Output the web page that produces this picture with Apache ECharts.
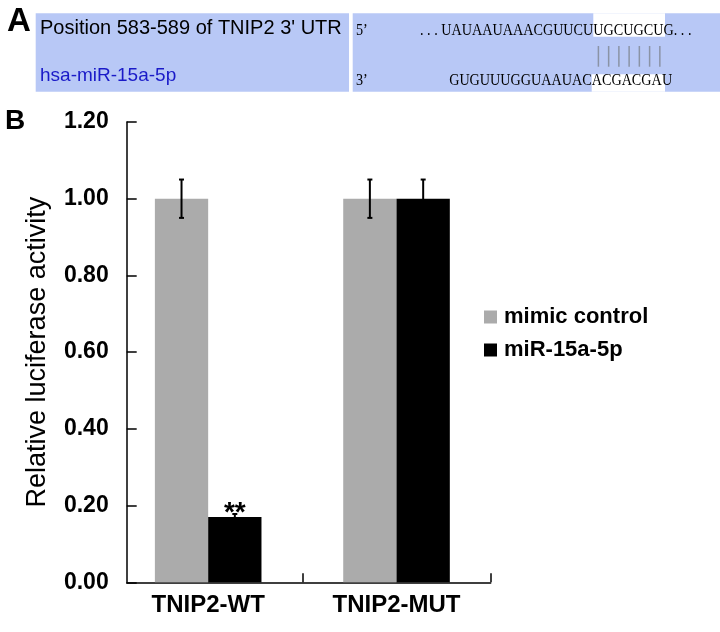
<!DOCTYPE html>
<html>
<head>
<meta charset="utf-8">
<script src="https://cdn.jsdelivr.net/npm/echarts@6/dist/echarts.min.js"></script>
<style>html,body{margin:0;padding:0;background:#fff;}#c{width:720px;height:632px;}</style>
</head>
<body>
<div id="c"></div>
<script>
// ---- data ----
const categories = ['TNIP2-WT', 'TNIP2-MUT'];
const seriesNames = ['mimic control', 'miR-15a-5p'];
const mimicControl = [1.00, 1.00];
const mimicControlErr = [0.05, 0.05];
const mir15a = [0.17, 1.00];
const mir15aErr = [0.008, 0.05];
const sigMarks = ['**', ''];
const yMin = 0, yMax = 1.2, yStep = 0.2;
const yAxisTitle = 'Relative luciferase activity';
// panel A texts
const utrLabel = "Position 583-589 of TNIP2 3' UTR";
const mirLabel = 'hsa-miR-15a-5p';
const utrPrefix = '. . . UAUAAUAAACGUUCU';
const utrSite = 'UGCUGCU';
const utrSuffix = 'G. . .';
const mirPrefix = 'GUGUUUGGUAAUAC';
const mirSite = 'ACGACGA';
const mirSuffix = 'U';

const SANS = '"Liberation Sans", Arial, sans-serif';
const SERIF = '"Liberation Serif", "Times New Roman", serif';
const BAR_W = 53.3;
const GRAY = '#ababab';

const chart = echarts.init(document.getElementById('c'), null, {renderer: 'canvas'});

const errData = [];
categories.forEach((c, i) => {
  errData.push([i, mimicControl[i], mimicControlErr[i], 0]);
  errData.push([i, mir15a[i], mir15aErr[i], 1]);
});

function txt(t, x, y, font, fill, align, sx) {
  return {type: 'text', x: x, y: y, scaleX: sx || 1,
    style: {text: t, x: 0, y: 0, font: font, fill: fill, verticalAlign: 'middle', align: align || 'left'}};
}
const SEQF = '17px ' + SERIF, SEQS = 0.834;

const pairLines = [];
for (let k = 0; k < utrSite.length; k++) {
  const x = 598.4 + 10.24 * k;
  pairLines.push({type: 'line', shape: {x1: x, y1: 46, x2: x, y2: 66.7}, style: {stroke: '#8a93a6', lineWidth: 1.5}});
}

const option = {
  backgroundColor: '#fff',
  animation: false,
  graphic: [
    {type: 'rect', shape: {x: 35.7, y: 13.3, width: 313.3, height: 78.4}, style: {fill: '#b8c8f6'}},
    {type: 'rect', shape: {x: 352.7, y: 13.3, width: 367.3, height: 78.4}, style: {fill: '#b8c8f6'}},
    {type: 'rect', shape: {x: 593.3, y: 13.3, width: 71.7, height: 23.4}, style: {fill: '#ffffff'}},
    {type: 'rect', shape: {x: 591.7, y: 74.3, width: 73.3, height: 17.4}, style: {fill: '#ffffff'}},
    txt('A', 7, 22, 'bold 33px ' + SANS, '#000'),
    txt('B', 5, 121, 'bold 28px ' + SANS, '#000'),
    txt(utrLabel, 40, 28.5, '20px ' + SANS, '#000'),
    txt(mirLabel, 40, 75.5, '19px ' + SANS, '#1a1ac8'),
    txt('5\u2019', 356, 30.5, SEQF, '#000', 'left', SEQS),
    txt('3\u2019', 356, 80.5, SEQF, '#000', 'left', SEQS),
    txt(utrPrefix, 593.3, 30.5, SEQF, '#000', 'right', SEQS),
    txt(utrSite, 593.3, 30.5, SEQF, '#000', 'left', SEQS),
    txt(utrSuffix, 663.5, 30.5, SEQF, '#000', 'left', SEQS),
    txt(mirPrefix, 591.7, 80.8, SEQF, '#000', 'right', SEQS),
    txt(mirSite, 591.7, 80.8, SEQF, '#000', 'left', SEQS),
    txt(mirSuffix, 662, 80.8, SEQF, '#000', 'left', SEQS)
  ].concat(pairLines),
  legend: {
    data: seriesNames,
    orient: 'vertical',
    left: 479, top: 301,
    itemWidth: 13, itemHeight: 13, itemGap: 11,
    icon: 'rect',
    textStyle: {fontSize: 22, fontWeight: 'bold', color: '#000', fontFamily: SANS, padding: [0, 0, 0, 2]}
  },
  grid: [
    {left: 126.7, right: 229.3, top: 122, bottom: 49.7},
    {left: 114, right: 229.3, top: 122, bottom: 49.7}
  ],
  xAxis: [
    {
      type: 'value', gridIndex: 0, min: 0, max: 364,
      axisLine: {show: true, lineStyle: {color: '#000', width: 1.5}},
      axisTick: {show: true, inside: true, length: 9, lineStyle: {color: '#000', width: 1.5}, customValues: [175.6, 364]},
      axisLabel: {show: false},
      splitLine: {show: false}
    },
    {
      type: 'category', gridIndex: 1, data: categories,
      axisLine: {show: false}, axisTick: {show: false},
      axisLabel: {fontSize: 24, fontWeight: 'bold', color: '#000', fontFamily: SANS, margin: 11}
    }
  ],
  yAxis: [
    {
      type: 'value', gridIndex: 0, min: yMin, max: yMax, interval: yStep,
      axisLine: {show: true, lineStyle: {color: '#000', width: 1.5}},
      axisTick: {show: true, inside: true, length: 10, lineStyle: {color: '#000', width: 1.5}},
      axisLabel: {fontSize: 23, fontWeight: 'bold', color: '#000', fontFamily: SANS, margin: 18,
        formatter: v => v.toFixed(2)},
      splitLine: {show: false},
      name: yAxisTitle, nameLocation: 'middle', nameGap: 76,
      nameTextStyle: {fontSize: 27, color: '#000', fontFamily: SANS}
    },
    {
      type: 'value', gridIndex: 1, min: yMin, max: yMax, interval: yStep, show: false
    }
  ],
  series: [
    {
      name: seriesNames[0], type: 'bar', xAxisIndex: 1, yAxisIndex: 1,
      data: mimicControl, barWidth: BAR_W, barGap: '0%',
      itemStyle: {color: GRAY}
    },
    {
      name: seriesNames[1], type: 'bar', xAxisIndex: 1, yAxisIndex: 1,
      data: mir15a.map((v, i) => ({
        value: v,
        label: {show: !!sigMarks[i], formatter: sigMarks[i], position: 'top', distance: 0, offset: [0, 10],
          fontSize: 28, fontWeight: 'bold', color: '#000', fontFamily: SANS}
      })),
      barWidth: BAR_W, barGap: '0%',
      itemStyle: {color: '#000'}
    },
    {
      type: 'custom', xAxisIndex: 1, yAxisIndex: 1, z: 5,
      data: errData,
      renderItem: function (params, api) {
        const ci = api.value(0), v = api.value(1), e = api.value(2), s = api.value(3);
        const cx = api.coord([ci, v])[0] + (s === 0 ? -BAR_W / 2 : BAR_W / 2);
        const yt = api.coord([ci, v + e])[1];
        const yb = api.coord([ci, v - e])[1];
        const st = {stroke: '#000', lineWidth: 2};
        return {type: 'group', children: [
          {type: 'line', shape: {x1: cx, y1: yt, x2: cx, y2: yb}, style: st},
          {type: 'line', shape: {x1: cx - 2.5, y1: yt, x2: cx + 2.5, y2: yt}, style: st},
          {type: 'line', shape: {x1: cx - 2.5, y1: yb, x2: cx + 2.5, y2: yb}, style: st}
        ]};
      }
    }
  ]
};
chart.setOption(option);
</script>
</body>
</html>
